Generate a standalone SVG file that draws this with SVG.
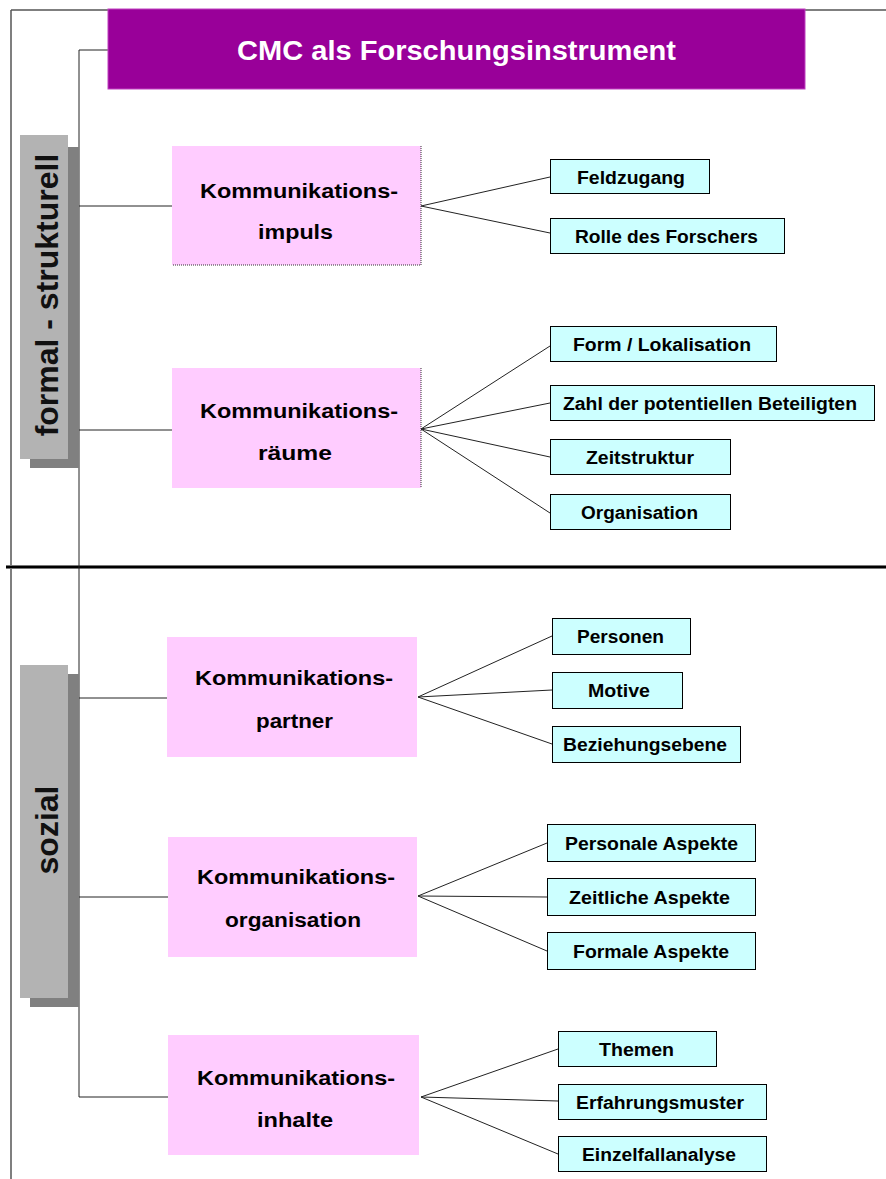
<svg xmlns="http://www.w3.org/2000/svg" width="886" height="1179" viewBox="0 0 886 1179">
<style>
.ln{stroke:#222;stroke-width:1;fill:none}
.pink{fill:#ffccff}
.cyan{fill:#ccffff;stroke:#000;stroke-width:1}
.lbl{fill:#b3b3b3}
.shd{fill:#808080}
.t{font-family:"Liberation Sans",Arial,sans-serif;font-weight:bold;fill:#000}
.pt{font-size:20px;text-anchor:start}
.ct{font-size:18px;text-anchor:start}
.side{font-size:32px;text-anchor:middle;fill:#111}
.dot{stroke:#333;stroke-width:1;stroke-dasharray:1,1;fill:none}
</style>
<rect width="886" height="1179" fill="#fff"/>
<g id="frame">
<line x1="11" y1="10" x2="886" y2="10" stroke="#555" stroke-width="1.5"/>
<line x1="11" y1="10" x2="11" y2="1179" stroke="#555" stroke-width="1.5"/>
<line x1="6" y1="567" x2="886" y2="567" stroke="#777" stroke-width="4"/>
<line x1="6" y1="567" x2="886" y2="567" stroke="#000" stroke-width="2"/>
</g>
<g id="connectors">
<polyline class="ln" points="108,50 79,50 79,1097"/>
<line class="ln" x1="79" y1="206" x2="172" y2="206"/>
<line class="ln" x1="79" y1="430" x2="172" y2="430"/>
<line class="ln" x1="79" y1="698" x2="167" y2="698"/>
<line class="ln" x1="79" y1="897" x2="168" y2="897"/>
<line class="ln" x1="79" y1="1097" x2="168" y2="1097"/>
<path class="ln" d="M421,206 L550,177 M421,206 L550,233"/>
<path class="ln" d="M421,429 L550,346 M421,429 L550,403 M421,429 L550,457 M421,429 L550,513"/>
<path class="ln" d="M418,697 L552,636 M418,697 L552,690 M418,697 L552,744"/>
<path class="ln" d="M418,896 L547,843 M418,896 L547,897 M418,896 L547,951"/>
<path class="ln" d="M421,1097 L558,1049 M421,1097 L558,1101 M421,1097 L558,1154"/>
</g>
<g id="title">
<rect x="108" y="9" width="697" height="80" fill="#990099" stroke="#c040c0" stroke-width="1"/>
<text x="237" y="60" font-family="Liberation Sans,Arial,sans-serif" font-weight="bold" font-size="28" fill="#fff" textLength="439" lengthAdjust="spacingAndGlyphs">CMC als Forschungsinstrument</text>
</g>
<g id="label-formal">
<rect class="shd" x="30" y="147" width="49" height="321"/>
<rect class="lbl" x="20" y="135" width="48" height="324"/>
<text class="t side" transform="translate(58,295) rotate(-90)">formal - strukturell</text>
</g>
<g id="label-sozial">
<rect class="shd" x="30" y="674" width="49" height="333"/>
<rect class="lbl" x="20" y="665" width="48" height="333"/>
<text class="t side" transform="translate(58,830) rotate(-90)">sozial</text>
</g>
<g id="node-impuls">
<rect class="pink" x="172" y="146" width="249" height="119"/>
<path class="dot" d="M421,146 L421,265 L172,265"/>
<text class="t pt" x="200" y="198" textLength="198" lengthAdjust="spacingAndGlyphs">Kommunikations-</text>
<text class="t pt" x="258" y="239" textLength="75" lengthAdjust="spacingAndGlyphs">impuls</text>
</g>
<g id="node-raeume">
<rect class="pink" x="172" y="368" width="249" height="120"/>
<path class="dot" d="M421,368 L421,488"/>
<text class="t pt" x="200" y="418" textLength="198" lengthAdjust="spacingAndGlyphs">Kommunikations-</text>
<text class="t pt" x="258" y="460" textLength="74" lengthAdjust="spacingAndGlyphs">räume</text>
</g>
<g id="node-partner">
<rect class="pink" x="167" y="637" width="250" height="120"/>
<text class="t pt" x="195" y="685" textLength="198" lengthAdjust="spacingAndGlyphs">Kommunikations-</text>
<text class="t pt" x="256" y="728" textLength="77" lengthAdjust="spacingAndGlyphs">partner</text>
</g>
<g id="node-organisation">
<rect class="pink" x="168" y="837" width="249" height="120"/>
<text class="t pt" x="197" y="884" textLength="198" lengthAdjust="spacingAndGlyphs">Kommunikations-</text>
<text class="t pt" x="225" y="927" textLength="136" lengthAdjust="spacingAndGlyphs">organisation</text>
</g>
<g id="node-inhalte">
<rect class="pink" x="168" y="1035" width="251" height="120"/>
<text class="t pt" x="197" y="1085" textLength="198" lengthAdjust="spacingAndGlyphs">Kommunikations-</text>
<text class="t pt" x="257" y="1127" textLength="76" lengthAdjust="spacingAndGlyphs">inhalte</text>
</g>
<g id="leaf-feldzugang"><rect class="cyan" x="550.5" y="159.5" width="159" height="34"/><text class="t ct" x="577" y="184" textLength="108" lengthAdjust="spacingAndGlyphs">Feldzugang</text></g>
<g id="leaf-rolle"><rect class="cyan" x="550.5" y="218.5" width="234" height="35"/><text class="t ct" x="575" y="243" textLength="183" lengthAdjust="spacingAndGlyphs">Rolle des Forschers</text></g>
<g id="leaf-form"><rect class="cyan" x="550.5" y="326.5" width="226" height="35"/><text class="t ct" x="573" y="351" textLength="178" lengthAdjust="spacingAndGlyphs">Form / Lokalisation</text></g>
<g id="leaf-zahl"><rect class="cyan" x="550.5" y="385.5" width="324" height="35"/><text class="t ct" x="563" y="410" textLength="294" lengthAdjust="spacingAndGlyphs">Zahl der potentiellen Beteiligten</text></g>
<g id="leaf-zeitstruktur"><rect class="cyan" x="550.5" y="439.5" width="180" height="35"/><text class="t ct" x="586" y="464" textLength="108" lengthAdjust="spacingAndGlyphs">Zeitstruktur</text></g>
<g id="leaf-organisation"><rect class="cyan" x="550.5" y="494.5" width="180" height="35"/><text class="t ct" x="581" y="519" textLength="117" lengthAdjust="spacingAndGlyphs">Organisation</text></g>
<g id="leaf-personen"><rect class="cyan" x="552.5" y="618.5" width="138" height="36"/><text class="t ct" x="577" y="643" textLength="87" lengthAdjust="spacingAndGlyphs">Personen</text></g>
<g id="leaf-motive"><rect class="cyan" x="552.5" y="672.5" width="130" height="36"/><text class="t ct" x="588" y="697" textLength="62" lengthAdjust="spacingAndGlyphs">Motive</text></g>
<g id="leaf-beziehung"><rect class="cyan" x="552.5" y="726.5" width="188" height="36"/><text class="t ct" x="563" y="751" textLength="164" lengthAdjust="spacingAndGlyphs">Beziehungsebene</text></g>
<g id="leaf-personale"><rect class="cyan" x="547.5" y="824.5" width="208" height="37"/><text class="t ct" x="565" y="850" textLength="173" lengthAdjust="spacingAndGlyphs">Personale Aspekte</text></g>
<g id="leaf-zeitliche"><rect class="cyan" x="547.5" y="878.5" width="208" height="37"/><text class="t ct" x="569" y="904" textLength="161" lengthAdjust="spacingAndGlyphs">Zeitliche Aspekte</text></g>
<g id="leaf-formale"><rect class="cyan" x="547.5" y="932.5" width="208" height="37"/><text class="t ct" x="573" y="958" textLength="156" lengthAdjust="spacingAndGlyphs">Formale Aspekte</text></g>
<g id="leaf-themen"><rect class="cyan" x="558.5" y="1031.5" width="158" height="35"/><text class="t ct" x="599" y="1056" textLength="75" lengthAdjust="spacingAndGlyphs">Themen</text></g>
<g id="leaf-erfahrung"><rect class="cyan" x="558.5" y="1084.5" width="208" height="35"/><text class="t ct" x="576" y="1109" textLength="168" lengthAdjust="spacingAndGlyphs">Erfahrungsmuster</text></g>
<g id="leaf-einzelfall"><rect class="cyan" x="558.5" y="1136.5" width="208" height="35"/><text class="t ct" x="582" y="1161" textLength="154" lengthAdjust="spacingAndGlyphs">Einzelfallanalyse</text></g>
</svg>
